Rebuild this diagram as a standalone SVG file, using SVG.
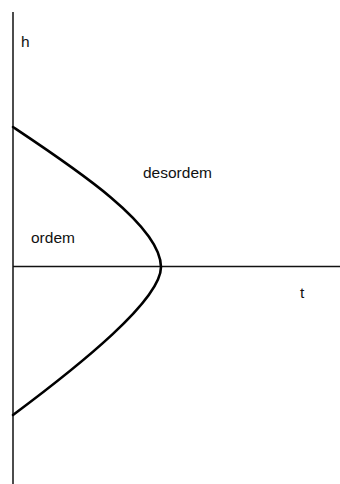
<svg xmlns="http://www.w3.org/2000/svg" width="340" height="484" viewBox="0 0 340 484">
<style>
.axis{stroke:#111;stroke-width:1.5;fill:none}
.curve{stroke:#000;stroke-width:2.6;fill:none;stroke-linecap:round}
.lbl{font-family:"Liberation Sans",Arial,sans-serif;font-size:15.5px;fill:#111}
</style>
<rect width="340" height="484" fill="#fff"/>
<g id="connectors">
<line class="axis" x1="13" y1="12" x2="13" y2="484"/>
<line class="axis" x1="13" y1="266.5" x2="340" y2="266.5"/>
<path class="curve" d="M13,127 C73,167 161,225 161,267 C161,300 80,365 13,415"/>
</g>
<g id="label-h"><text class="lbl" x="21" y="47">h</text></g>
<g id="label-desordem"><text class="lbl" x="143" y="178">desordem</text></g>
<g id="label-ordem"><text class="lbl" x="31" y="243">ordem</text></g>
<g id="label-t"><text class="lbl" x="300" y="298">t</text></g>
</svg>
